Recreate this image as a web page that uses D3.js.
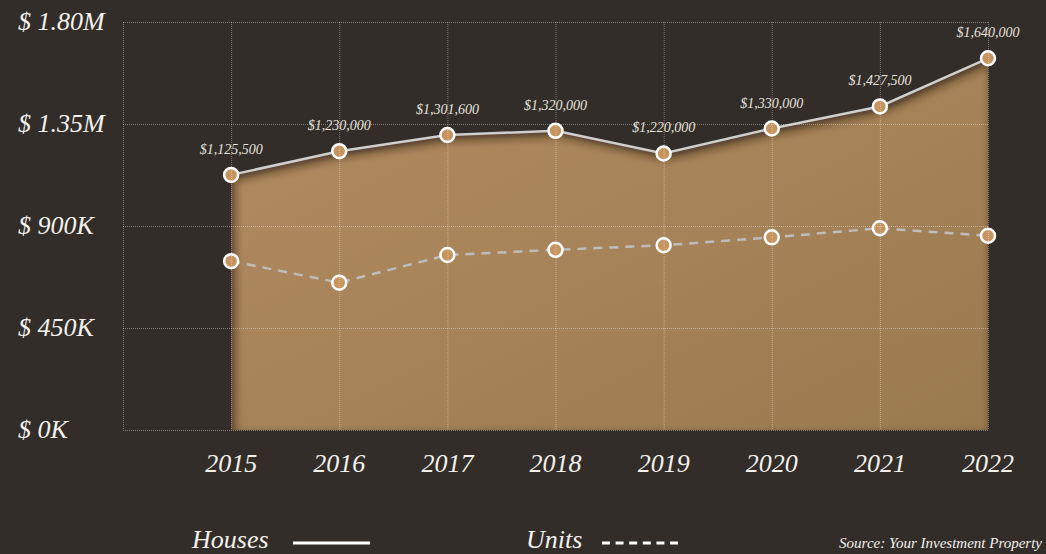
<!DOCTYPE html>
<html>
<head>
<meta charset="utf-8">
<script src="https://cdn.jsdelivr.net/npm/d3@7"></script>
<style>
  body { margin: 0; background: #322d29; }
  svg { display: block; }
  text { font-family: "Liberation Serif", "Times New Roman", serif; font-style: italic; fill: #f4f1ec; }
</style>
</head>
<body>
<script>
// data
var years = ["2015", "2016", "2017", "2018", "2019", "2020", "2021", "2022"];
var houses = [1125500, 1230000, 1301600, 1320000, 1220000, 1330000, 1427500, 1640000];
var units = [745000, 650000, 772000, 795000, 815000, 850000, 890000, 857000];
var yTicks = [0, 450000, 900000, 1350000, 1800000];
var yTickLabels = ["$ 0K", "$ 450K", "$ 900K", "$ 1.35M", "$ 1.80M"];

var width = 1046, height = 554;
var margin = {left: 123, top: 22, right: 58, bottom: 124};
var w = width - margin.left - margin.right;
var h = height - margin.top - margin.bottom;

var svg = d3.select("body").append("svg").attr("width", width).attr("height", height);

// scales
var step = w / years.length;
var x = d3.scalePoint().domain(years).range([step, w]);
var y = d3.scaleLinear().domain([0, 1800000]).range([h, 0]);

var defs = svg.append("defs");
var grad = defs.append("linearGradient").attr("id", "areaGrad")
    .attr("x1", "0%").attr("y1", "0%").attr("x2", "100%").attr("y2", "100%");
grad.append("stop").attr("offset", "0%").attr("stop-color", "#b38c62");
grad.append("stop").attr("offset", "100%").attr("stop-color", "#9a7a4f");

var blur = defs.append("filter").attr("id", "blur").attr("x", "-10%").attr("y", "-10%").attr("width", "120%").attr("height", "120%");
blur.append("feGaussianBlur").attr("stdDeviation", 5);

var g = svg.append("g").attr("transform", "translate(" + margin.left + "," + margin.top + ")");

var houseData = years.map(function(d, i){ return {year: d, value: houses[i]}; });
var unitData = years.map(function(d, i){ return {year: d, value: units[i]}; });

var area = d3.area()
    .x(function(d){ return x(d.year); })
    .y0(h)
    .y1(function(d){ return y(d.value); });

var line = d3.line()
    .x(function(d){ return x(d.year); })
    .y(function(d){ return y(d.value); });

// area with inner shadow
defs.append("clipPath").attr("id", "areaClip").append("path").attr("d", area(houseData));
g.append("path").attr("d", area(houseData)).attr("fill", "url(#areaGrad)");
var outside = "M-200,-200H" + (w + 200) + "V" + (h + 200) + "H-200Z " + area(houseData);
g.append("g").attr("clip-path", "url(#areaClip)")
  .append("path")
    .attr("d", outside)
    .attr("fill-rule", "evenodd")
    .attr("fill", "rgba(40,30,20,0.75)")
    .attr("transform", "translate(3,5)")
    .attr("filter", "url(#blur)");

// lines
g.append("path").attr("d", line(unitData))
    .attr("fill", "none").attr("stroke", "#bdbdbd").attr("stroke-width", 2.5)
    .attr("stroke-dasharray", "9,7");
g.append("path").attr("d", line(houseData))
    .attr("fill", "none").attr("stroke", "#cfcfcf").attr("stroke-width", 2.5);

// points
[houseData, unitData].forEach(function(data){
  g.selectAll(null).data(data).enter().append("circle")
      .attr("cx", function(d){ return x(d.year); })
      .attr("cy", function(d){ return y(d.value); })
      .attr("r", 7)
      .attr("fill", "#c6955f")
      .attr("stroke", "#ffffff")
      .attr("stroke-width", 2.5);
});

// grid
var grid = g.append("g").attr("stroke", "rgba(255,255,255,0.38)").attr("stroke-width", 1).attr("stroke-dasharray", "1,1");
grid.selectAll(null).data(yTicks).enter().append("line")
    .attr("x1", 0).attr("x2", w)
    .attr("y1", function(d){ return y(d) + 0.5; }).attr("y2", function(d){ return y(d) + 0.5; });
grid.selectAll(null).data(years).enter().append("line")
    .attr("x1", function(d){ return x(d) + 0.5; }).attr("x2", function(d){ return x(d) + 0.5; })
    .attr("y1", 0).attr("y2", h);
grid.append("line").attr("x1", 0.5).attr("x2", 0.5).attr("y1", 0).attr("y2", h);

// value labels
g.selectAll(null).data(houseData).enter().append("text")
    .attr("x", function(d){ return x(d.year); })
    .attr("y", function(d){ return y(d.value) - 21; })
    .attr("text-anchor", "middle")
    .attr("font-size", 14)
    .style("fill", "#e6e2dc")
    .text(function(d){ return "$" + d3.format(",")(d.value); });

// y labels
svg.selectAll(null).data(yTicks).enter().append("text")
    .attr("x", 18)
    .attr("y", function(d){ return margin.top + y(d) + 8; })
    .attr("font-size", 26)
    .text(function(d, i){ return yTickLabels[i]; });

// x labels
svg.selectAll(null).data(years).enter().append("text")
    .attr("x", function(d){ return margin.left + x(d); })
    .attr("y", 472)
    .attr("text-anchor", "middle")
    .attr("font-size", 26)
    .text(function(d){ return d; });

// legend
svg.append("text").attr("x", 192).attr("y", 548).attr("font-size", 26).text("Houses");
svg.append("line").attr("x1", 293).attr("x2", 370).attr("y1", 543).attr("y2", 543)
    .attr("stroke", "#ffffff").attr("stroke-width", 3);
svg.append("text").attr("x", 526).attr("y", 548).attr("font-size", 26).text("Units");
svg.append("line").attr("x1", 602).attr("x2", 678).attr("y1", 543).attr("y2", 543)
    .attr("stroke", "#ffffff").attr("stroke-width", 3).attr("stroke-dasharray", "8,5.6");
svg.append("text").attr("x", 1042).attr("y", 548).attr("text-anchor", "end").attr("font-size", 15)
    .text("Source: Your Investment Property");
</script>
</body>
</html>
